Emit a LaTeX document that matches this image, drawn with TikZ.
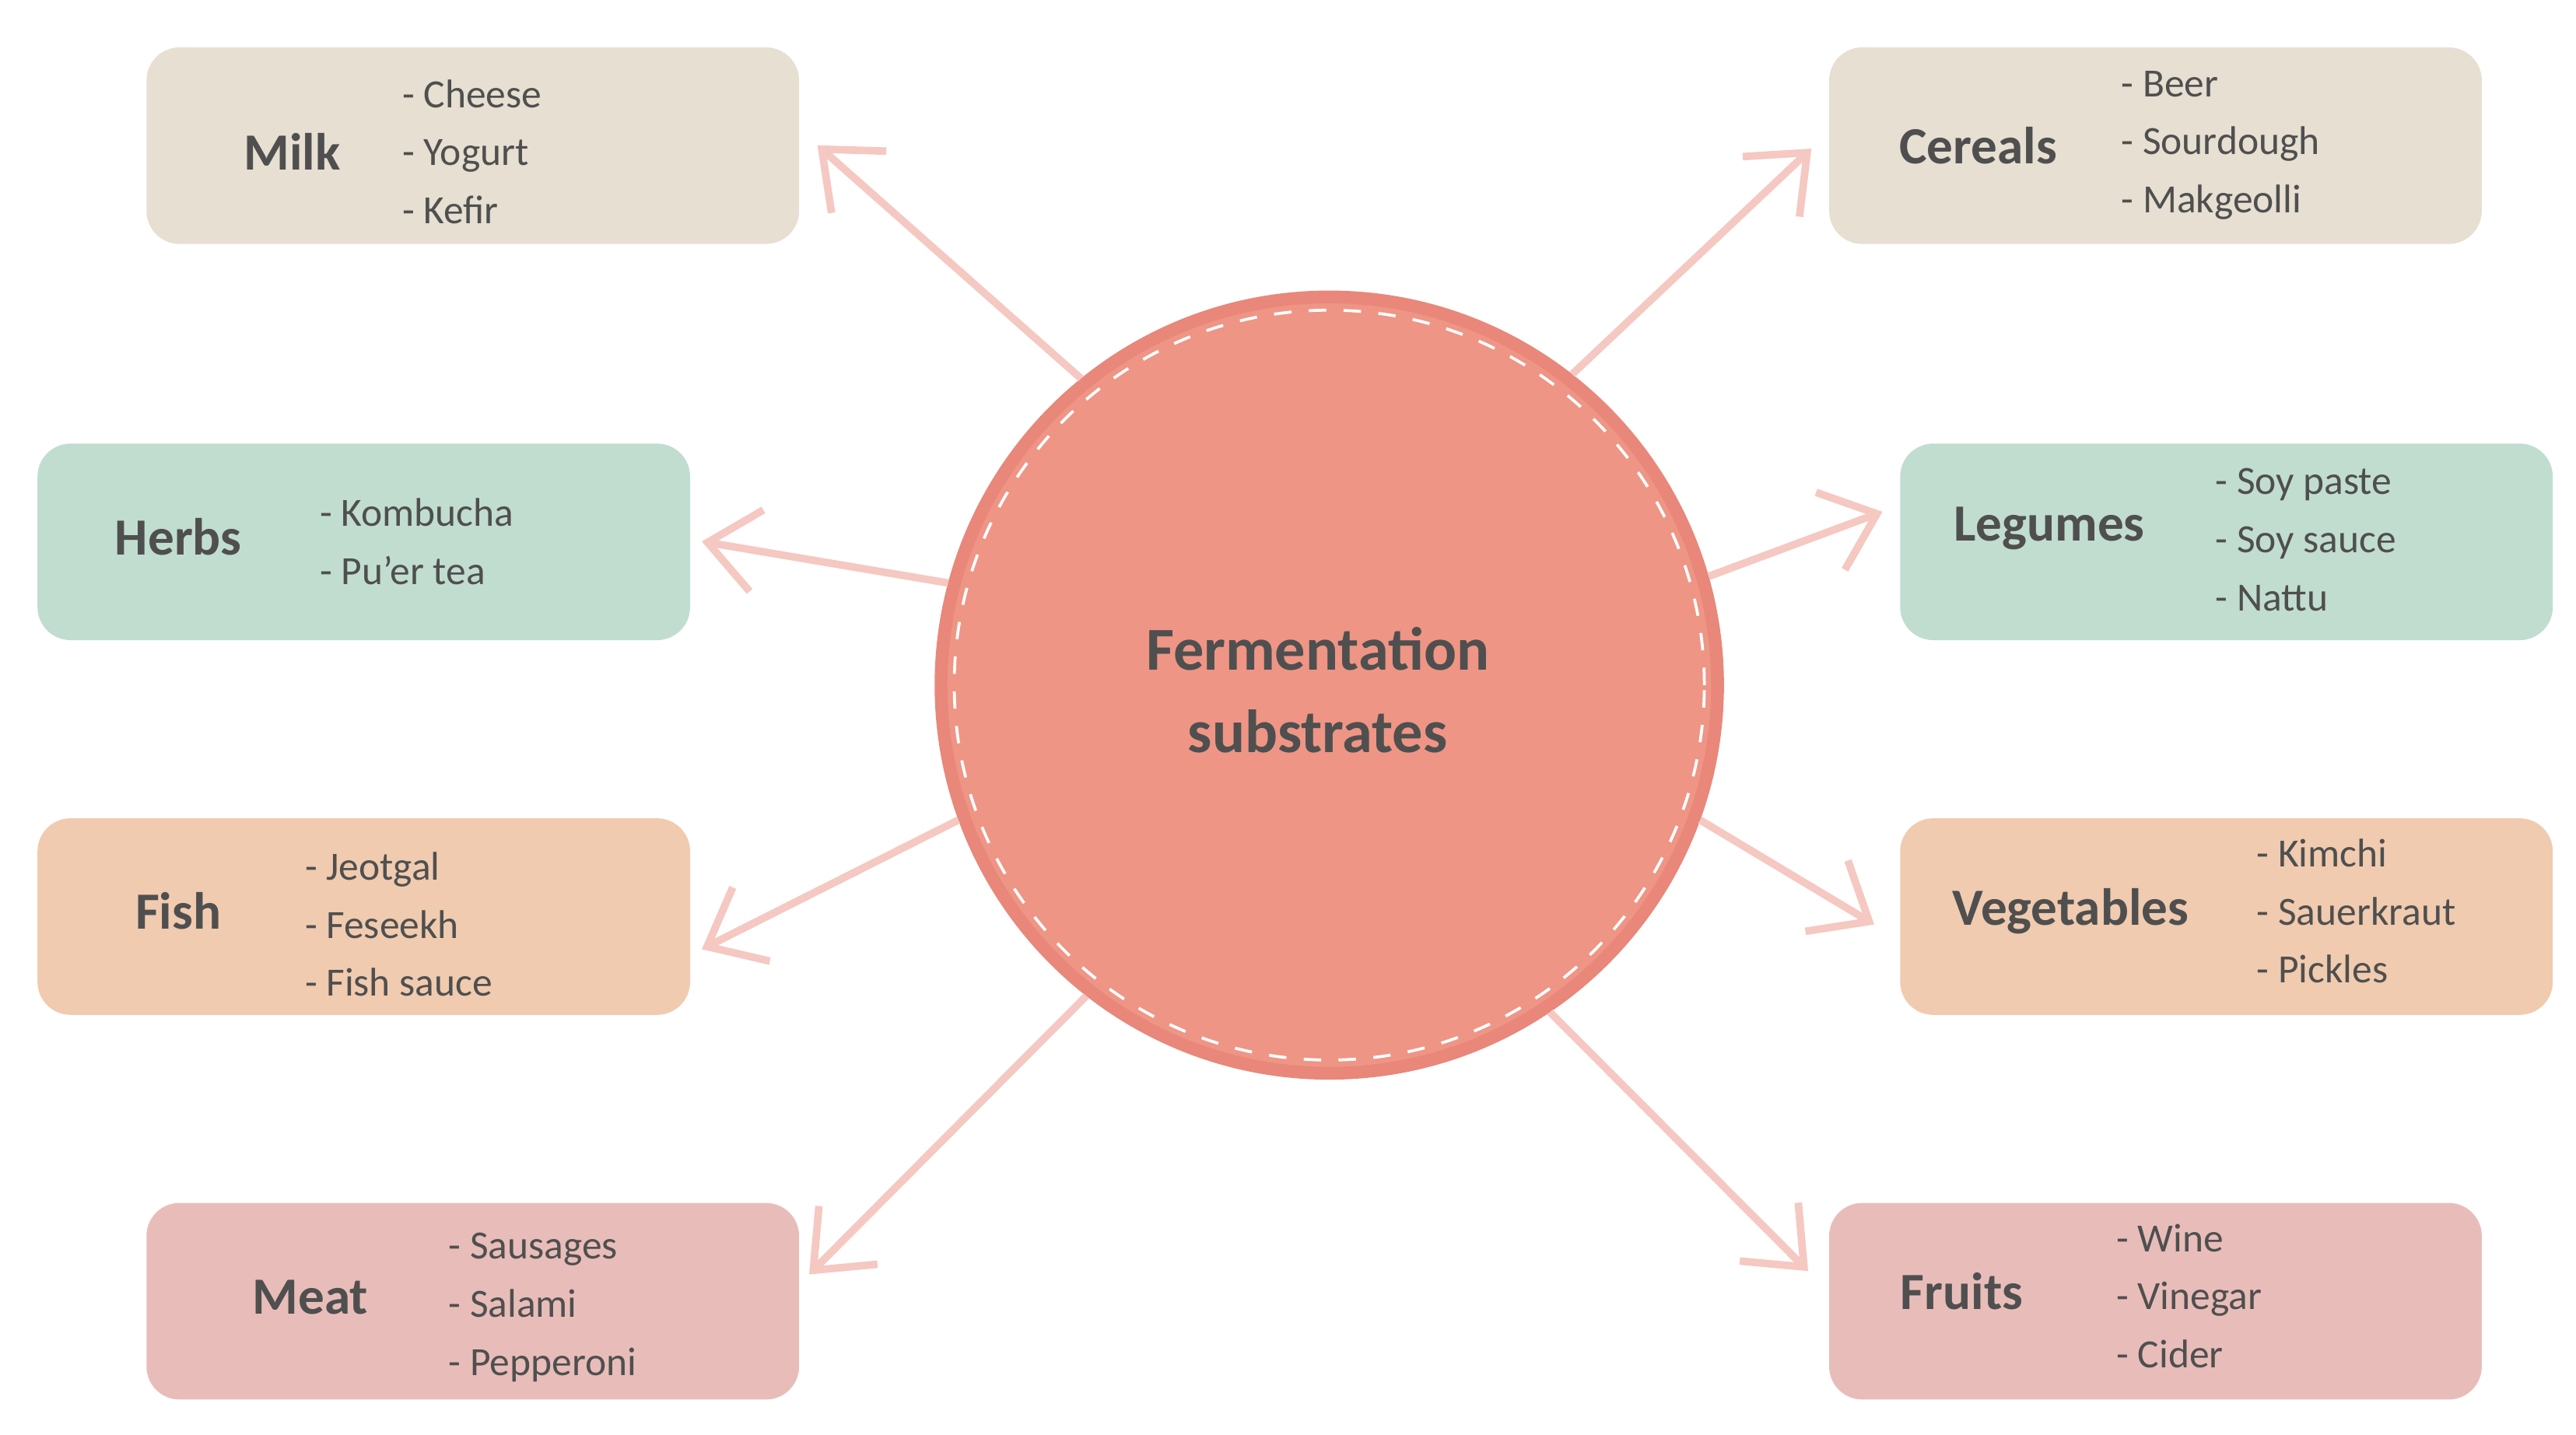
\documentclass[tikz,border=0pt]{standalone}
\usepackage{fontspec}
\setmainfont{Carlito}
\usetikzlibrary{arrows.meta}
\definecolor{txt}{HTML}{4F4F4F}
\definecolor{beige}{HTML}{E6DFD2}
\definecolor{mint}{HTML}{C1DDD0}
\definecolor{peach}{HTML}{F0CBAF}
\definecolor{rose}{HTML}{E8BDB9}
\definecolor{circ}{HTML}{EF9585}
\definecolor{circd}{HTML}{E8877A}
\definecolor{arr}{HTML}{F5C8C2}
\begin{document}
\begin{tikzpicture}[x=0.01cm,y=-0.01cm,
  box/.style={draw=none,rounded corners=0.2cm,minimum width=3.95cm,minimum height=1.19cm,anchor=north west},
  ttl/.style={font=\fontsize{9}{10}\selectfont\bfseries,text=txt},
  lst/.style={font=\fontsize{6.9}{10}\selectfont,text=txt,align=left,anchor=west,inner sep=0},
  con/.style={draw=arr,line width=1.3pt,-{Straight Barb[length=0.3cm,width=0.5cm,line width=1.3pt]}}]
\useasboundingbox (0,0) rectangle (1560,869);
\node[circle,fill=circ,draw=circd,line width=2.2pt,minimum size=4.7cm,inner sep=0] (c) at (805,415) {};
\draw[white,dashed,line width=0.5pt] (805,415) circle (2.27cm);
\node[font=\fontsize{10.5}{14.2}\selectfont\bfseries,text=txt,align=center] (ct) at (798,418) {Fermentation\\substrates};
% boxes
\node[box,fill=beige] (milk) at (88,28) {};
\node[box,fill=beige] (cer) at (1107,28) {};
\node[box,fill=mint] (herb) at (22,268) {};
\node[box,fill=mint] (leg) at (1150,268) {};
\node[box,fill=peach] (fish) at (22,495) {};
\node[box,fill=peach] (veg) at (1150,495) {};
\node[box,fill=rose] (meat) at (88,728) {};
\node[box,fill=rose] (frt) at (1107,728) {};
% texts
\node[ttl] (t1) at (177,92) {Milk};
\node[lst] (l1) at (243,92) {- Cheese\\- Yogurt\\- Kefir};
\node[ttl] (t2) at (1198,88) {Cereals};
\node[lst] (l2) at (1284,88) {- Beer\\- Sourdough\\- Makgeolli};
\node[ttl] (t3) at (108,325) {Herbs};
\node[lst] (l3) at (193,328) {- Kombucha\\- Pu'er tea};
\node[ttl] (t4) at (1241,320) {Legumes};
\node[lst] (l4) at (1341,327) {- Soy paste\\- Soy sauce\\- Nattu};
\node[ttl] (t5) at (108,552) {Fish};
\node[lst] (l5) at (184,560) {- Jeotgal\\- Feseekh\\- Fish sauce};
\node[ttl] (t6) at (1254,552) {Vegetables};
\node[lst] (l6) at (1366,552) {- Kimchi\\- Sauerkraut\\- Pickles};
\node[ttl] (t7) at (188,786) {Meat};
\node[lst] (l7) at (271,792) {- Sausages\\- Salami\\- Pepperoni};
\node[ttl] (t8) at (1188,782) {Fruits};
\node[lst] (l8) at (1281,785) {- Wine\\- Vinegar\\- Cider};
% arrow tips
\coordinate (a1) at (495,88);
\coordinate (a2) at (1097,90);
\coordinate (a3) at (425,328);
\coordinate (a4) at (1140,310);
\coordinate (a5) at (425,575);
\coordinate (a6) at (1135,560);
\coordinate (a7) at (490,772);
\coordinate (a8) at (1095,770);
\draw[con] (c.129) -- (a1);
\draw[con] (c.52) -- (a2);
\draw[con] (c.165) -- (a3);
\draw[con] (c.16) -- (a4);
\draw[con] (c.200) -- (a5);
\draw[con] (c.-20) -- (a6);
\draw[con] (c.-128) -- (a7);
\draw[con] (c.-56) -- (a8);
\end{tikzpicture}
\end{document}
